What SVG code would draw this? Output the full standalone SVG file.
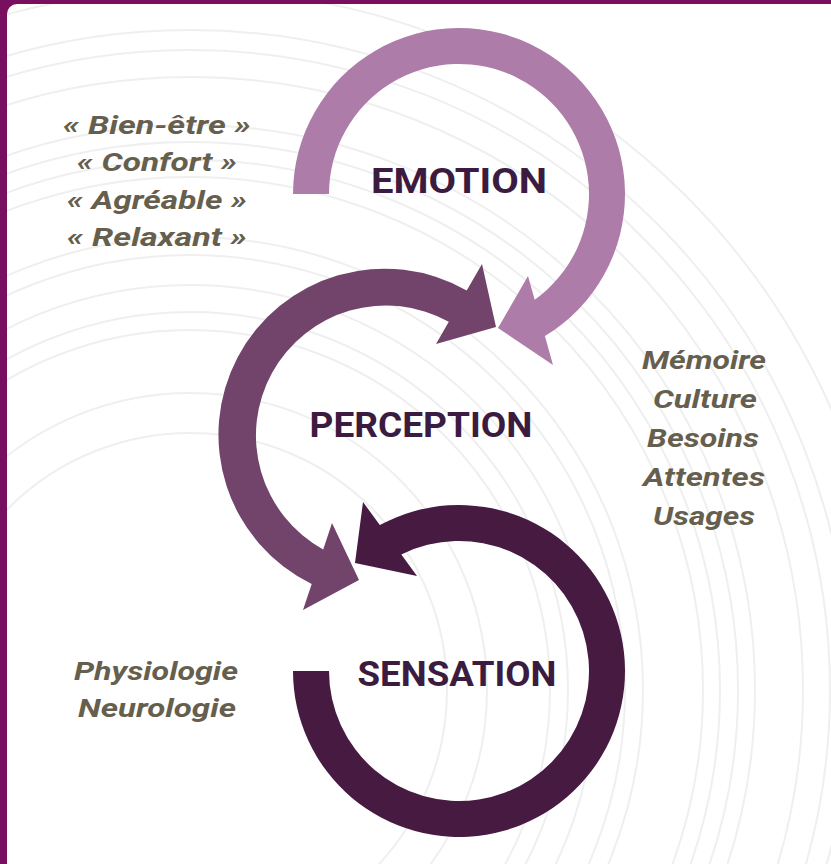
<svg xmlns="http://www.w3.org/2000/svg" width="831" height="864" viewBox="0 0 831 864">
  <style>
    .bg { fill: none; stroke: #efefef; stroke-width: 2; }
    .lbl { font-family: Roboto, "Liberation Sans", sans-serif; font-weight: 700; font-size: 35px; fill: #3b1c40; text-anchor: middle; }
    .note { font-family: Roboto, "Liberation Sans", sans-serif; font-weight: 700; font-style: italic; font-size: 26px; fill: #675f4e; text-anchor: middle; }
  </style>
  <rect x="0" y="0" width="831" height="864" fill="#ffffff"/>
  <g id="background-arcs">
    <circle class="bg" cx="190" cy="690" r="257"/>
    <circle class="bg" cx="190" cy="690" r="297"/>
    <circle class="bg" cx="190" cy="690" r="360"/>
    <circle class="bg" cx="190" cy="690" r="378"/>
    <circle class="bg" cx="190" cy="690" r="405"/>
    <circle class="bg" cx="190" cy="690" r="435"/>
    <circle class="bg" cx="190" cy="690" r="453"/>
    <circle class="bg" cx="190" cy="690" r="513"/>
    <circle class="bg" cx="190" cy="690" r="530"/>
    <circle class="bg" cx="190" cy="690" r="548"/>
    <circle class="bg" cx="190" cy="690" r="565"/>
    <circle class="bg" cx="190" cy="690" r="613"/>
    <circle class="bg" cx="190" cy="690" r="640"/>
    <circle class="bg" cx="190" cy="690" r="660"/>
    <circle class="bg" cx="190" cy="690" r="700"/>
  </g>
  <g id="frame" fill="#79105f">
    <rect x="0" y="0" width="831" height="4"/>
    <rect x="0" y="0" width="7" height="864"/>
    <path d="M7 4 h10 a10 10 0 0 0 -10 10 z"/>
  </g>
  <g id="connectors">
    <path id="arrow-emotion" fill="#ae7ca9" d="M 293 194 A 166 166 0 1 1 544.9 336.1 L 553 365 L 498 328 L 528 276 L 534.7 299.7 A 130 130 0 1 0 329 194 Z"/>
    <path id="arrow-perception" fill="#72446b" d="M 466.7 290.5 A 166 166 0 1 0 311.7 583.9 L 303 610 L 359 580 L 332 523 L 323.2 549.4 A 130 130 0 1 1 448.8 321.7 L 436 344 L 496 327 L 482 264 Z"/>
    <path id="arrow-sensation" fill="#471a41" d="M 293 671 A 166 166 0 1 0 379.8 525.1 L 363 502 L 355 563 L 417 576 L 401.3 554.5 A 130 130 0 1 1 329 671 Z"/>
  </g>
  <g id="node-emotion">
    <text class="lbl" x="459" y="193" textLength="176" lengthAdjust="spacingAndGlyphs">EMOTION</text>
  </g>
  <g id="node-perception">
    <text class="lbl" x="421" y="437" textLength="223" lengthAdjust="spacingAndGlyphs">PERCEPTION</text>
  </g>
  <g id="node-sensation">
    <text class="lbl" x="457" y="686" textLength="199" lengthAdjust="spacingAndGlyphs">SENSATION</text>
  </g>
  <g id="note-emotion">
    <text class="note" x="157" y="134" textLength="188" lengthAdjust="spacingAndGlyphs">« Bien-être »</text>
    <text class="note" x="157" y="171" textLength="160" lengthAdjust="spacingAndGlyphs">« Confort »</text>
    <text class="note" x="157" y="209" textLength="180" lengthAdjust="spacingAndGlyphs">« Agréable »</text>
    <text class="note" x="157" y="246" textLength="180" lengthAdjust="spacingAndGlyphs">« Relaxant »</text>
  </g>
  <g id="note-perception">
    <text class="note" x="704" y="369" textLength="124" lengthAdjust="spacingAndGlyphs">Mémoire</text>
    <text class="note" x="705" y="408" textLength="104" lengthAdjust="spacingAndGlyphs">Culture</text>
    <text class="note" x="703" y="447" textLength="112" lengthAdjust="spacingAndGlyphs">Besoins</text>
    <text class="note" x="704" y="486" textLength="122" lengthAdjust="spacingAndGlyphs">Attentes</text>
    <text class="note" x="704" y="525" textLength="102" lengthAdjust="spacingAndGlyphs">Usages</text>
  </g>
  <g id="note-sensation">
    <text class="note" x="156" y="680" textLength="164" lengthAdjust="spacingAndGlyphs">Physiologie</text>
    <text class="note" x="157" y="717" textLength="158" lengthAdjust="spacingAndGlyphs">Neurologie</text>
  </g>
</svg>
